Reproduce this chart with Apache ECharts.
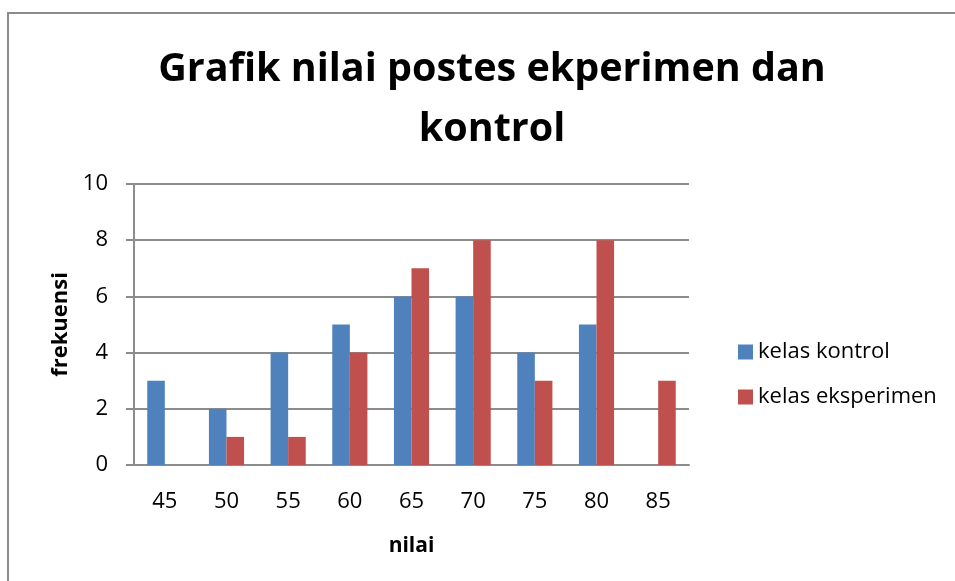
<!DOCTYPE html>
<html>
<head>
<meta charset="utf-8">
<script src="https://cdn.jsdelivr.net/npm/echarts@6/dist/echarts.min.js"></script>
<style>
  html, body { margin: 0; padding: 0; background: #fff; }
  #chart { width: 955px; height: 581px; }
</style>
</head>
<body>
<div id="chart"></div>
<script>
var categories = ['45', '50', '55', '60', '65', '70', '75', '80', '85'];
var kelasKontrol = [3, 2, 4, 5, 6, 6, 4, 5, 0];
var kelasEksperimen = [0, 1, 1, 4, 7, 8, 3, 8, 3];

var font = 'Open Sans';
var chart = echarts.init(document.getElementById('chart'));

var option = {
    animation: false,
    textStyle: { fontFamily: font },
    title: {
        text: 'Grafik nilai postes ekperimen dan\nkontrol',
        left: 487,
        top: 35,
        textAlign: 'center',
        textStyle: {
            fontFamily: font,
            fontSize: 39.5,
            fontWeight: 'bold',
            color: '#000',
            lineHeight: 60,
            align: 'center'
        }
    },
    graphic: [{
        type: 'rect',
        shape: { x: 8, y: 13, width: 960, height: 600 },
        style: { fill: 'none', stroke: '#8c8c8c', lineWidth: 2 },
        silent: true
    }],
    legend: {
        orient: 'vertical',
        left: 733,
        top: 336,
        itemWidth: 15,
        itemHeight: 15,
        itemGap: 23,
        icon: 'rect',
        textStyle: { fontFamily: font, fontSize: 22, color: '#000' },
        data: ['kelas kontrol', 'kelas eksperimen']
    },
    grid: {
        left: 134,
        right: 266,
        top: 184,
        bottom: 116
    },
    xAxis: {
        type: 'category',
        data: categories,
        name: 'nilai',
        nameLocation: 'middle',
        nameGap: 71,
        nameTextStyle: { fontFamily: font, fontSize: 21, fontWeight: 'bold', color: '#000' },
        axisLine: { lineStyle: { color: '#8c8c8c', width: 2 } },
        axisTick: { show: false },
        axisLabel: { fontFamily: font, fontSize: 22, color: '#000', margin: 26 }
    },
    yAxis: {
        type: 'value',
        min: 0,
        max: 10,
        interval: 2,
        name: 'frekuensi',
        nameLocation: 'middle',
        nameGap: 60,
        nameTextStyle: { fontFamily: font, fontSize: 22, fontWeight: 'bold', color: '#000' },
        axisLine: { show: true, lineStyle: { color: '#8c8c8c', width: 2 } },
        axisTick: { show: true, inside: false, length: 8, lineStyle: { color: '#8c8c8c', width: 2 } },
        axisLabel: { fontFamily: font, fontSize: 22, color: '#000', margin: 26 },
        splitLine: { lineStyle: { color: '#8c8c8c', width: 2 } }
    },
    series: [{
        name: 'kelas kontrol',
        type: 'bar',
        data: kelasKontrol,
        barGap: '0%',
        barCategoryGap: '43%',
        itemStyle: { color: '#4f81bd' }
    }, {
        name: 'kelas eksperimen',
        type: 'bar',
        data: kelasEksperimen,
        barGap: '0%',
        barCategoryGap: '43%',
        itemStyle: { color: '#c0504d' }
    }]
};

chart.setOption(option);
</script>
</body>
</html>
